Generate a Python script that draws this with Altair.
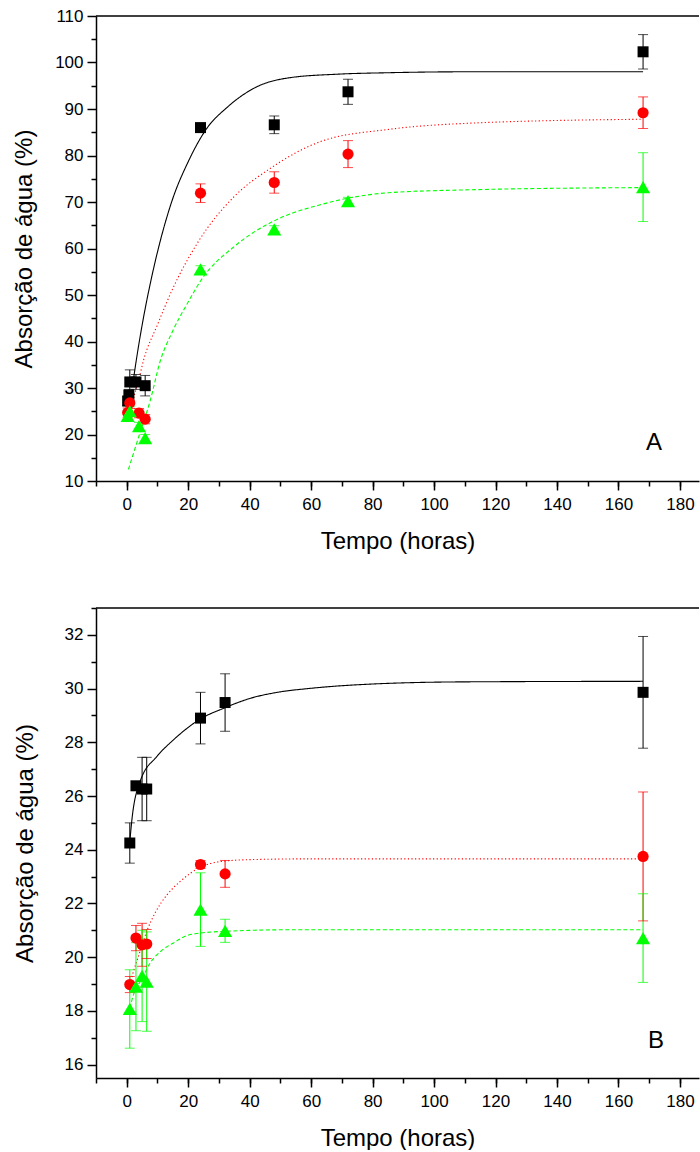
import altair as alt
import pandas as pd

# ---------------- data ----------------
SERIES = ["preto", "vermelho", "verde"]
COLORS = ["#000000", "#ff0000", "#00ff00"]

# Panel A : points (time h, absorption %, error)
A_black_t = [0.3, 0.7, 1.0, 3.0, 6.0, 24, 48, 72, 168]
A_black_y = [27.2, 28.5, 31.3, 31.3, 30.5, 86.0, 86.6, 93.7, 102.3]
A_black_e = [1.0, 1.2, 2.6, 1.6, 2.2, 0.5, 1.9, 2.7, 3.7]
A_red_t = [0.3, 1.0, 4.0, 6.0, 24, 48, 72, 168]
A_red_y = [24.7, 26.8, 24.6, 23.3, 71.9, 74.2, 80.3, 89.2]
A_red_e = [1.0, 1.2, 1.0, 1.0, 2.0, 2.3, 2.9, 3.4]
A_green_t = [0.3, 1.0, 4.0, 6.0, 24, 48, 72, 168]
A_green_y = [24.0, 25.0, 21.8, 19.2, 55.5, 64.1, 70.2, 73.2]
A_green_e = [1.0, 1.0, 0.8, 0.8, 0.8, 0.8, 0.8, 7.4]

# Panel A : fitted curves
A_black_ct = [2, 3, 5, 8, 10.9, 14.7, 20.1, 25.5, 33.1, 41.8, 52.7, 69, 85, 110, 168]
A_black_cy = [31.0, 35.5, 43.5, 53.5, 61.6, 70.2, 78.8, 85.3, 90.6, 94.6, 96.7, 97.5, 97.8, 98.0, 98.0]
A_red_ct = [2.5, 3.8, 5.4, 10, 15, 23.4, 35, 46.2, 63.5, 85, 110, 168]
A_red_cy = [28.5, 31.5, 35.8, 43.6, 51.4, 61.6, 71.2, 77.0, 83.1, 85.6, 86.9, 87.8]
A_green_ct = [0.55, 3.8, 7.6, 10.9, 15, 20, 24, 35.3, 47.8, 63.5, 85.2, 110, 168]
A_green_cy = [12.5, 19.3, 27.2, 35.8, 42.3, 48.5, 53.0, 60.6, 65.9, 69.5, 72.0, 72.6, 73.1]

# Panel B : points
B_black_t = [1, 3, 5, 6.5, 24, 32, 168]
B_black_y = [24.25, 26.38, 26.26, 26.26, 28.9, 29.48, 29.86]
B_black_e = [0.75, 0.15, 1.18, 1.18, 0.96, 1.07, 2.08]
B_red_t = [1, 3, 5, 6.5, 24, 32, 168]
B_red_y = [18.98, 20.71, 20.46, 20.49, 23.45, 23.1, 23.75]
B_red_e = [0.3, 0.47, 0.8, 0.54, 0.15, 0.5, 2.4]
B_green_t = [1, 3, 5, 6.5, 24, 32, 168]
B_green_y = [18.07, 18.9, 19.3, 19.09, 21.77, 20.98, 20.71]
B_green_e = [1.46, 1.64, 1.7, 1.85, 1.37, 0.43, 1.65]

# Panel B : fitted curves
B_black_ct = [1, 1.63, 4.35, 9.8, 15.2, 24, 31.6, 40.3, 49, 59.9, 80, 110, 168]
B_black_cy = [24.3, 25.06, 26.54, 27.47, 28.09, 28.87, 29.27, 29.64, 29.86, 30.01, 30.17, 30.25, 30.27]
B_red_ct = [1, 2.2, 4.3, 6.5, 9.2, 13.1, 17.4, 24, 30, 40, 60, 168]
B_red_cy = [19.0, 19.47, 20.2, 20.96, 21.64, 22.32, 22.82, 23.35, 23.55, 23.63, 23.66, 23.66]
B_green_ct = [1, 2.2, 5, 7.6, 10.9, 15.2, 20.7, 31.6, 53.4, 168]
B_green_cy = [18.1, 18.6, 19.2, 19.78, 20.2, 20.53, 20.84, 20.96, 21.02, 21.02]

X_DOMAIN = [-10, 186.2]
X_MAJOR = list(range(0, 181, 20))
X_MINOR = list(range(-10, 181, 10))
A_Y_DOMAIN = [10, 110]
A_Y_MAJOR = list(range(10, 111, 10))
A_Y_MINOR = list(range(15, 110, 10))
B_Y_DOMAIN = [15.5, 33]
B_Y_MAJOR = list(range(16, 33, 2))
B_Y_MINOR = list(range(17, 34, 2))

FONT = "Liberation Sans"
W = 603


def points_df(groups):
    rows = []
    for s, ts, ys, es in groups:
        for t, y, e in zip(ts, ys, es):
            rows.append({"series": s, "t": t, "y": y, "lo": y - e, "hi": y + e})
    return pd.DataFrame(rows)


def curves_df(groups):
    rows = []
    for s, ts, ys in groups:
        for t, y in zip(ts, ys):
            rows.append({"series": s, "t": t, "y": y})
    return pd.DataFrame(rows)


def panel(pts, crv, ydom, ymaj, ymin, letter, h, ytitle_pad, letter_xy):
    xs = alt.Scale(domain=X_DOMAIN, nice=False, zero=False)
    ys = alt.Scale(domain=ydom, nice=False, zero=False)
    color = alt.Color("series:N", scale=alt.Scale(domain=SERIES, range=COLORS), legend=None)

    curves = alt.Chart(crv).mark_line(interpolate="monotone", strokeWidth=1.1, clip=True).encode(
        x=alt.X("t:Q", scale=xs, axis=alt.Axis(orient="bottom", values=X_MINOR, tickSize=5,
                                                 labels=False, domain=False, title=None)),
        y=alt.Y("y:Q", scale=ys, axis=alt.Axis(orient="left", values=ymin, tickSize=5,
                                                 labels=False, domain=False, title=None)),
        color=color,
        strokeDash=alt.StrokeDash("series:N", scale=alt.Scale(domain=SERIES, range=[[1, 0], [1.2, 2.4], [4, 2.5]]),
                                  legend=None),
    )
    ebars = alt.Chart(pts).mark_rule(strokeWidth=1).encode(
        x=alt.X("t:Q", scale=xs, axis=None),
        y=alt.Y("lo:Q", scale=ys, axis=None),
        y2="hi:Q",
        color=color,
    )
    cap_lo = alt.Chart(pts).mark_tick(orient="horizontal", size=10, thickness=1).encode(
        x=alt.X("t:Q", scale=xs, axis=None), y=alt.Y("lo:Q", scale=ys, axis=None), color=color)
    cap_hi = alt.Chart(pts).mark_tick(orient="horizontal", size=10, thickness=1).encode(
        x=alt.X("t:Q", scale=xs, axis=None), y=alt.Y("hi:Q", scale=ys, axis=None), color=color)

    layers = [curves, ebars, cap_lo, cap_hi]
    shapes = {"preto": ("square", 121), "vermelho": ("circle", 125), "verde": ("triangle-up", 200)}
    first = True
    for s in SERIES:
        shp, sz = shapes[s]
        if first:
            xax = alt.Axis(orient="bottom", values=X_MAJOR, tickSize=9, labelPadding=6,
                           title="Tempo (horas)", titlePadding=17)
            yax = alt.Axis(orient="left", values=ymaj, tickSize=9, labelPadding=4,
                           title="Absorção de água (%)", titlePadding=ytitle_pad)
        else:
            xax = None
            yax = None
        first = False
        layers.append(
            alt.Chart(pts).transform_filter(alt.datum.series == s)
            .mark_point(filled=True, opacity=1, shape=shp, size=sz, strokeWidth=0)
            .encode(x=alt.X("t:Q", scale=xs, axis=xax), y=alt.Y("y:Q", scale=ys, axis=yax), color=color)
        )
    border = alt.Chart(pd.DataFrame({"k": [0]})).mark_rule(color="black", strokeWidth=1.5).encode(
        x=alt.value(0), x2=alt.value(W), y=alt.value(0))
    txt = alt.Chart(pd.DataFrame({"label": [letter]})).mark_text(
        font=FONT, fontSize=24, color="black", align="center", baseline="middle").encode(
        text="label:N", x=alt.value(letter_xy[0]), y=alt.value(letter_xy[1]))
    layers += [border, txt]
    return alt.layer(*layers).resolve_axis(x="independent", y="independent").properties(width=W, height=h)


ptsA = points_df([("preto", A_black_t, A_black_y, A_black_e),
                  ("vermelho", A_red_t, A_red_y, A_red_e),
                  ("verde", A_green_t, A_green_y, A_green_e)])
crvA = curves_df([("preto", A_black_ct, A_black_cy),
                  ("vermelho", A_red_ct, A_red_cy),
                  ("verde", A_green_ct, A_green_cy)])
ptsB = points_df([("preto", B_black_t, B_black_y, B_black_e),
                  ("vermelho", B_red_t, B_red_y, B_red_e),
                  ("verde", B_green_t, B_green_y, B_green_e)])
crvB = curves_df([("preto", B_black_ct, B_black_cy),
                  ("vermelho", B_red_ct, B_red_cy),
                  ("verde", B_green_ct, B_green_cy)])

pA = panel(ptsA, crvA, A_Y_DOMAIN, A_Y_MAJOR, A_Y_MINOR, "A", 465, 18, (558, 427))
pB = panel(ptsB, crvB, B_Y_DOMAIN, B_Y_MAJOR, B_Y_MINOR, "B", 470, 27, (560, 433))

chart = alt.vconcat(pA, pB, spacing=127, bounds="flush").properties(
    padding={"left": 12, "top": 7, "right": 0, "bottom": 0}
).configure_view(stroke=None).configure_axis(
    labelFont=FONT, titleFont=FONT, labelFontSize=17, titleFontSize=24, titleFontWeight="normal",
    labelColor="black", titleColor="black", tickColor="black", domainColor="black",
    domainWidth=1.5, tickWidth=1.5, grid=False,
)

chart.save("out.html", embed_options={"renderer": "svg", "actions": False})
